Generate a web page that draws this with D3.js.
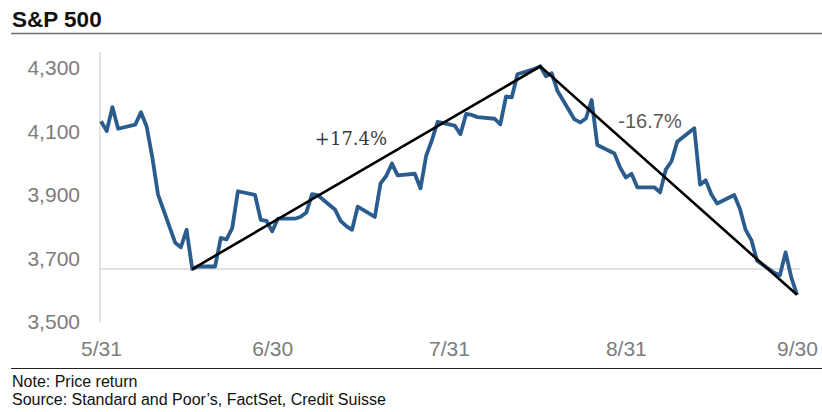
<!DOCTYPE html>
<html>
<head>
<meta charset="utf-8">
<script src="https://cdn.jsdelivr.net/npm/d3@7"></script>
<style>
  html, body { margin: 0; padding: 0; background: #fff; }
  svg { display: block; }
</style>
</head>
<body>
<svg id="chart" width="822" height="412"></svg>
<script>
// S&P 500 daily closes, 31 May – 30 Sep 2022 (holidays carry the prior close)
const dates = [
  "2022-05-31","2022-06-01","2022-06-02","2022-06-03","2022-06-06","2022-06-07","2022-06-08","2022-06-09","2022-06-10",
  "2022-06-13","2022-06-14","2022-06-15","2022-06-16","2022-06-17","2022-06-20","2022-06-21","2022-06-22","2022-06-23","2022-06-24",
  "2022-06-27","2022-06-28","2022-06-29","2022-06-30","2022-07-01","2022-07-04","2022-07-05","2022-07-06","2022-07-07","2022-07-08",
  "2022-07-11","2022-07-12","2022-07-13","2022-07-14","2022-07-15","2022-07-18","2022-07-19","2022-07-20","2022-07-21","2022-07-22",
  "2022-07-25","2022-07-26","2022-07-27","2022-07-28","2022-07-29","2022-08-01","2022-08-02","2022-08-03","2022-08-04","2022-08-05",
  "2022-08-08","2022-08-09","2022-08-10","2022-08-11","2022-08-12","2022-08-15","2022-08-16","2022-08-17","2022-08-18","2022-08-19",
  "2022-08-22","2022-08-23","2022-08-24","2022-08-25","2022-08-26","2022-08-29","2022-08-30","2022-08-31","2022-09-01","2022-09-02",
  "2022-09-05","2022-09-06","2022-09-07","2022-09-08","2022-09-09","2022-09-12","2022-09-13","2022-09-14","2022-09-15","2022-09-16",
  "2022-09-19","2022-09-20","2022-09-21","2022-09-22","2022-09-23","2022-09-26","2022-09-27","2022-09-28","2022-09-29","2022-09-30"
];
const closes = [
  4132.15,4101.23,4176.82,4108.54,4121.43,4160.68,4115.77,4017.82,3900.86,
  3749.63,3735.48,3789.99,3666.77,3674.84,3674.84,3764.79,3759.89,3795.73,3911.74,
  3900.11,3821.55,3818.83,3785.38,3825.33,3825.33,3831.39,3845.08,3902.62,3899.38,
  3854.43,3818.80,3801.78,3790.38,3863.16,3830.85,3936.69,3959.90,3998.95,3961.63,
  3966.84,3921.05,4023.61,4072.43,4130.29,4118.63,4091.19,4155.17,4151.94,4145.19,
  4140.06,4122.47,4210.24,4207.27,4280.15,4297.14,4305.20,4274.04,4283.74,4228.48,
  4137.99,4128.73,4140.77,4199.12,4057.66,4030.61,3986.16,3955.00,3966.85,3924.26,
  3924.26,3908.19,3979.87,4006.18,4067.36,4110.41,3932.69,3946.01,3901.35,3873.33,
  3899.89,3855.93,3789.93,3757.99,3693.23,3655.04,3647.29,3719.04,3640.47,3585.62
];

// Trend legs: June low -> August high -> September close
const trendDates = ["2022-06-16","2022-08-16","2022-09-30"];
const trendValues = [3666.77, 4305.20, 3585.62];
const trendLabels = ["+17.4%", "-16.7%"];

// June low reference level
const refLevel = 3666.77;

const yTicks = [3500, 3700, 3900, 4100, 4300];
const xTickDates = ["2022-05-31","2022-06-30","2022-07-31","2022-08-31","2022-09-30"];
const xTickLabels = ["5/31","6/30","7/31","8/31","9/30"];

const parse = d3.timeParse("%Y-%m-%d");
const svg = d3.select("#chart");

const x = d3.scaleTime()
  .domain([parse(xTickDates[0]), parse(xTickDates[xTickDates.length - 1])])
  .range([101, 797]);
const y = d3.scaleLinear()
  .domain([3500, 4350])
  .range([322, 52.1]);

// Title and rule
svg.append("text")
  .attr("x", 12).attr("y", 27)
  .attr("font-family", "Liberation Sans, Arial, sans-serif")
  .attr("font-weight", "bold").attr("font-size", 22.5)
  .attr("fill", "#111")
  .text("S&P 500");
svg.append("line")
  .attr("x1", 11).attr("x2", 822).attr("y1", 33.5).attr("y2", 33.5)
  .attr("stroke", "#6e6e6e").attr("stroke-width", 1.5);

// Vertical axis line
svg.append("line")
  .attr("x1", 100).attr("x2", 100)
  .attr("y1", y.range()[1]).attr("y2", y.range()[0])
  .attr("stroke", "#d9d9d9").attr("stroke-width", 1.5);

// Reference line at the June low
svg.append("line")
  .attr("x1", 100).attr("x2", 800)
  .attr("y1", y(refLevel)).attr("y2", y(refLevel))
  .attr("stroke", "#d9d9d9").attr("stroke-width", 1.5);

// Y axis labels
const yAxis = d3.axisLeft(y).tickValues(yTicks)
  .tickFormat(d3.format(",")).tickSize(0).tickPadding(0);
const gy = svg.append("g").attr("transform", "translate(80,0)").call(yAxis);
gy.select(".domain").remove();
gy.selectAll("text")
  .attr("font-family", "Liberation Sans, Arial, sans-serif")
  .attr("font-size", 21).attr("fill", "#7c7c7c");

// X axis labels
const xAxis = d3.axisBottom(x).tickValues(xTickDates.map(parse))
  .tickFormat((d, i) => xTickLabels[i]).tickSize(0).tickPadding(0);
const gx = svg.append("g").attr("transform", "translate(0,341)").call(xAxis);
gx.select(".domain").remove();
gx.selectAll("text")
  .attr("font-family", "Liberation Sans, Arial, sans-serif")
  .attr("font-size", 21).attr("fill", "#7c7c7c");

// Price line
const series = dates.map((d, i) => ({ date: parse(d), value: closes[i] }));
svg.append("path")
  .datum(series)
  .attr("fill", "none")
  .attr("stroke", "#2a5d8d")
  .attr("stroke-width", 3.8)
  .attr("stroke-linejoin", "round")
  .attr("d", d3.line().x(d => x(d.date)).y(d => y(d.value)));

// Trend legs
const trend = trendDates.map((d, i) => ({ date: parse(d), value: trendValues[i] }));
svg.append("path")
  .datum(trend)
  .attr("fill", "none")
  .attr("stroke", "#000")
  .attr("stroke-width", 2.6)
  .attr("d", d3.line().x(d => x(d.date)).y(d => y(d.value)));

// Leg annotations
svg.append("text")
  .attr("x", 351).attr("y", 145)
  .attr("text-anchor", "middle")
  .attr("font-family", "DejaVu Serif, serif")
  .attr("font-size", 18).attr("fill", "#3a3a3a")
  .text(trendLabels[0]);
svg.append("text")
  .attr("x", 650).attr("y", 128)
  .attr("text-anchor", "middle")
  .attr("font-family", "Liberation Sans, Arial, sans-serif")
  .attr("font-size", 20).attr("fill", "#5a5a5a")
  .text(trendLabels[1]);

// Footer rule and notes
svg.append("line")
  .attr("x1", 11).attr("x2", 822).attr("y1", 368.5).attr("y2", 368.5)
  .attr("stroke", "#222").attr("stroke-width", 1.2);
svg.append("text")
  .attr("x", 12).attr("y", 387)
  .attr("font-family", "Liberation Sans, Arial, sans-serif")
  .attr("font-size", 16).attr("fill", "#111")
  .text("Note: Price return");
svg.append("text")
  .attr("x", 12).attr("y", 405)
  .attr("font-family", "Liberation Sans, Arial, sans-serif")
  .attr("font-size", 16).attr("fill", "#111")
  .text("Source: Standard and Poor’s, FactSet, Credit Suisse");
</script>
</body>
</html>
